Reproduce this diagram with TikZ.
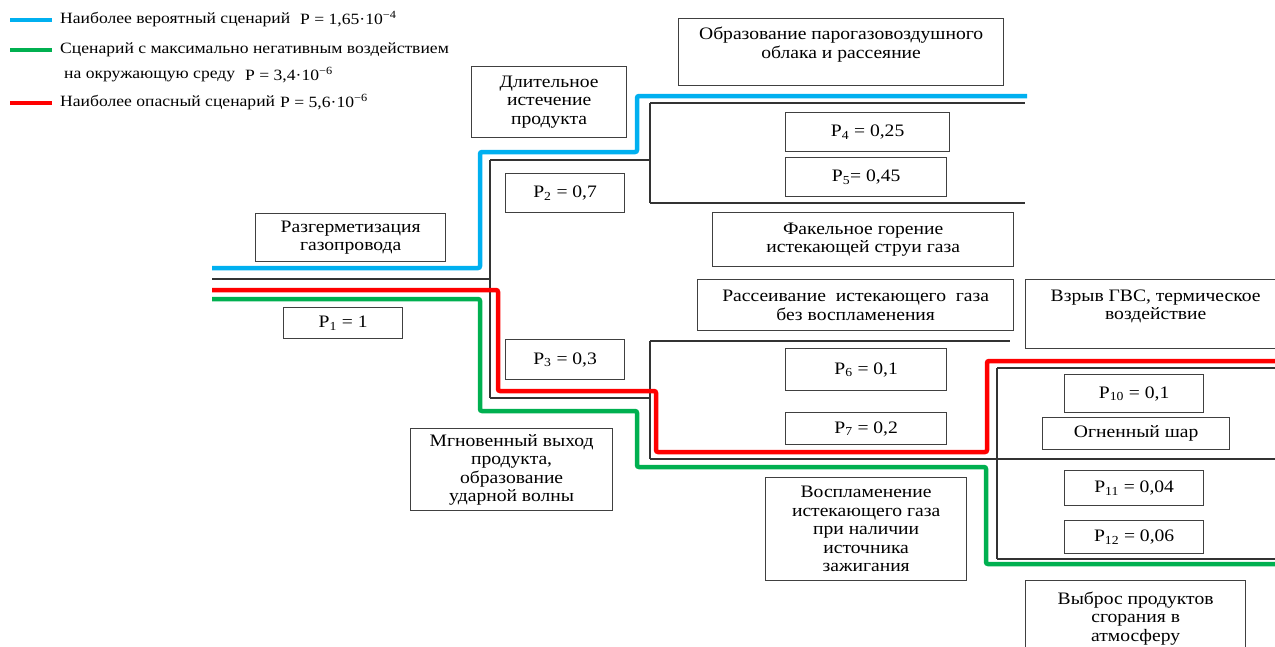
\documentclass[tikz,border=0pt]{standalone}
\usepackage{fontspec}
\setmainfont{Liberation Serif}[FakeStretch=1.12]
\definecolor{probable}{RGB}{0,176,240}
\definecolor{ecology}{RGB}{0,176,80}
\definecolor{danger}{RGB}{255,0,0}
\begin{document}
\begin{tikzpicture}[x=1pt,y=-1pt,
	box/.style={draw=black!75, line width=1.3pt, align=center, inner sep=0pt, anchor=north west, font=\fontsize{17.5}{18.5}\selectfont},
	legtext/.style={anchor=west, inner sep=0pt, font=\fontsize{15.7}{18}\selectfont},
	tree/.style={draw=black!80, line width=1.1pt},
	scen/.style={line width=4.5pt, rounded corners=2pt}]
	\useasboundingbox (0,0) rectangle (1275,646);

	% legend
	\draw [scen, probable] (10,20) coordinate (lb1) -- (52,20) coordinate (le1);
	\draw [scen, ecology] (10,50) coordinate (lb2) -- (52,50) coordinate (le2);
	\draw [scen, danger] (10,103) coordinate (lb3) -- (52,103) coordinate (le3);
	\node[legtext] (lt1) at (60,20) {Наиболее вероятный сценарий};
	\node[legtext] (lp1) at (300,19) {P = 1,65·10\textsuperscript{−4}};
	\node[legtext] (lt2) at (60,50) {Сценарий с максимально негативным воздействием};
	\node[legtext] (lt2b) at (64,76) {на окружающую среду};
	\node[legtext] (lp2) at (245,75) {P = 3,4·10\textsuperscript{−6}};
	\node[legtext] (lt3) at (60,103) {Наиболее опасный сценарий};
	\node[legtext] (lp3) at (280,102) {P = 5,6·10\textsuperscript{−6}};

	% tree of events
	\coordinate (in) at (212,279);
	\coordinate (root) at (490,279);
	\coordinate (up) at (490,160);
	\coordinate (down) at (490,398);
	\coordinate (up1) at (650,160);
	\coordinate (down1) at (650,398);
	\coordinate (uptop) at (650,103);
	\coordinate (upbot) at (650,203);
	\coordinate (dntop) at (650,341);
	\coordinate (dnbot) at (650,459);
	\coordinate (fire) at (997,459);
	\coordinate (firetop) at (997,368);
	\coordinate (firebot) at (997,559);
	\draw [tree] (in) -- (root);
	\draw [tree] (up) -- (down);
	\draw [tree] (up) -- (up1);
	\draw [tree] (down) -- (down1);
	\draw [tree] (uptop) -- (upbot);
	\draw [tree] (uptop) -- (1025,103);
	\draw [tree] (upbot) -- (1025,203);
	\draw [tree] (dntop) -- (dnbot);
	\draw [tree] (dntop) -- (1010,341);
	\draw [tree] (dnbot) -- (1275,459);
	\draw [tree] (firetop) -- (firebot);
	\draw [tree] (firetop) -- (1275,368);
	\draw [tree] (firebot) -- (1275,559);

	% scenarios
	\draw [scen, probable] (212,268) -- (480,268) -- (480,152) -- (637,152) -- (637,96) -- (1027,96);
	\draw [scen, danger] (212,290) -- (498,290) -- (498,391) -- (656,391) -- (656,452) -- (987,452) -- (987,361) -- (1275,361);
	\draw [scen, ecology] (212,299) -- (480,299) -- (480,411) -- (637,411) -- (637,467) -- (986,467) -- (986,564) -- (1275,564);

	% events
	\node[box, minimum width=190, minimum height=48] (leak) at (255,213) {Разгерметизация\\газопровода};
	\node[box, minimum width=119, minimum height=31] (p1) at (283,307) {P\textsubscript{1} = 1};
	\node[box, minimum width=155, minimum height=71] (long) at (471,66) {Длительное\\истечение\\продукта};
	\node[box, minimum width=119, minimum height=39] (p2) at (505,173) {P\textsubscript{2} = 0,7};
	\node[box, minimum width=119, minimum height=40] (p3) at (505,339) {P\textsubscript{3} = 0,3};
	\node[box, minimum width=202, minimum height=82] (burst) at (410,428) {Мгновенный выход\\продукта,\\образование\\ударной волны};
	\node[box, minimum width=325, minimum height=67] (cloud) at (678,18) {Образование парогазовоздушного\\облака и рассеяние\\ };
	\node[box, minimum width=164, minimum height=39] (p4) at (785,112) {P\textsubscript{4} = 0,25};
	\node[box, minimum width=161, minimum height=39] (p5) at (785,157) {P\textsubscript{5}= 0,45};
	\node[box, minimum width=301, minimum height=54] (torch) at (712,212) {Факельное горение\\истекающей струи газа};
	\node[box, minimum width=316, minimum height=51] (disp) at (697,279) {Рассеивание~ истекающего~ газа\\без воспламенения};
	\node[box, minimum width=260, minimum height=69] (vce) at (1025,279) {Взрыв ГВС, термическое\\воздействие\\ };
	\node[box, minimum width=161, minimum height=42] (p6) at (785,348) {P\textsubscript{6} = 0,1};
	\node[box, minimum width=161, minimum height=32] (p7) at (785,412) {P\textsubscript{7} = 0,2};
	\node[box, minimum width=139, minimum height=38] (p10) at (1064,374) {P\textsubscript{10} = 0,1};
	\node[box, minimum width=187, minimum height=32] (ball) at (1042,417) {Огненный шар};
	\node[box, minimum width=139, minimum height=35] (p11) at (1064,470) {P\textsubscript{11} = 0,04};
	\node[box, minimum width=139, minimum height=33] (p12) at (1064,520) {P\textsubscript{12} = 0,06};
	\node[box, minimum width=201, minimum height=103] (ignit) at (765,477) {Воспламенение\\истекающего газа\\при наличии\\источника\\зажигания};
	\node[box, minimum width=220, minimum height=90] (smoke) at (1025,580) {Выброс продуктов\\сгорания в\\атмосферу\\ };
\end{tikzpicture}
\end{document}
